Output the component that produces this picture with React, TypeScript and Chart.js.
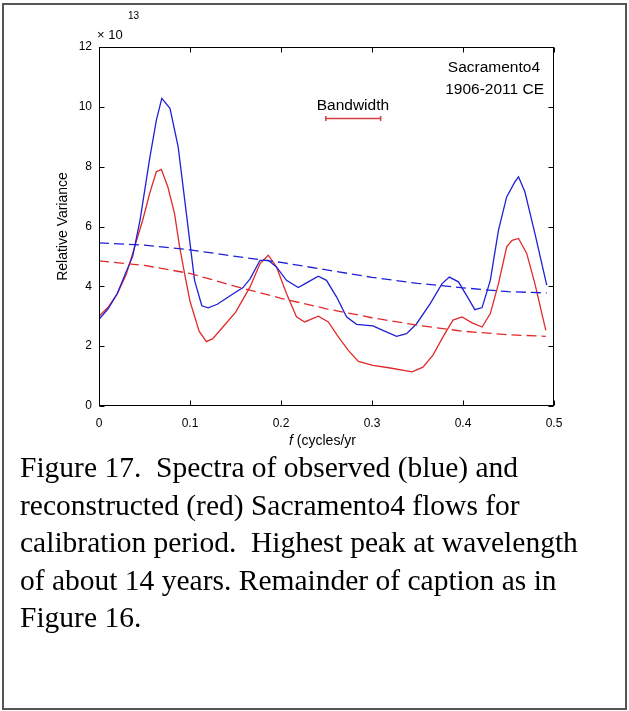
import React, { useEffect, useRef } from "react";
import { Chart, registerables } from "chart.js";

Chart.register(...registerables);

// ---- data (relative variance, units of 1e13) ----
const obsFreq = [0, 0.01, 0.02, 0.03, 0.037, 0.045, 0.056, 0.063, 0.069, 0.078, 0.087, 0.096, 0.105, 0.113, 0.12, 0.13, 0.14, 0.15, 0.158, 0.166, 0.177, 0.186, 0.195, 0.206, 0.219, 0.23, 0.241, 0.25, 0.261, 0.272, 0.283, 0.301, 0.312, 0.327, 0.338, 0.349, 0.364, 0.377, 0.385, 0.395, 0.406, 0.413, 0.421, 0.43, 0.439, 0.448, 0.457, 0.461, 0.468, 0.479, 0.492];
const obsVals = [2.9, 3.25, 3.75, 4.5, 5.0, 6.2, 8.33, 9.55, 10.28, 9.95, 8.66, 6.44, 4.2, 3.35, 3.28, 3.4, 3.6, 3.8, 3.95, 4.25, 4.87, 4.87, 4.65, 4.2, 3.96, 4.15, 4.34, 4.2, 3.65, 2.98, 2.73, 2.68, 2.53, 2.33, 2.42, 2.75, 3.42, 4.09, 4.31, 4.15, 3.59, 3.22, 3.29, 4.2, 5.88, 6.99, 7.49, 7.66, 7.16, 5.77, 4.04];

const recFreq = [0, 0.01, 0.02, 0.03, 0.037, 0.048, 0.0556, 0.063, 0.0685, 0.0757, 0.083, 0.0886, 0.094, 0.1, 0.11, 0.118, 0.125, 0.135, 0.15, 0.166, 0.177, 0.186, 0.195, 0.206, 0.217, 0.226, 0.241, 0.252, 0.263, 0.274, 0.285, 0.301, 0.32, 0.344, 0.356, 0.367, 0.378, 0.389, 0.399, 0.41, 0.421, 0.43, 0.439, 0.448, 0.454, 0.461, 0.47, 0.479, 0.491];
const recVals = [3.0, 3.3, 3.75, 4.4, 5.1, 6.21, 7.1, 7.83, 7.91, 7.32, 6.43, 5.32, 4.43, 3.5, 2.5, 2.15, 2.25, 2.6, 3.13, 3.98, 4.76, 5.04, 4.65, 3.76, 2.98, 2.81, 3.0, 2.81, 2.31, 1.86, 1.49, 1.36, 1.27, 1.14, 1.3, 1.7, 2.31, 2.87, 2.98, 2.78, 2.64, 3.09, 4.09, 5.32, 5.54, 5.6, 5.1, 4.09, 2.53];

const obsNullFreq = [0, 0.05, 0.1, 0.15, 0.2, 0.25, 0.3, 0.35, 0.4, 0.45, 0.492];
const obsNullVals = [5.45, 5.38, 5.22, 5.0, 4.8, 4.55, 4.3, 4.1, 3.95, 3.82, 3.78];

const recNullFreq = [0, 0.05, 0.1, 0.15, 0.2, 0.25, 0.3, 0.35, 0.4, 0.45, 0.491];
const recNullVals = [4.85, 4.7, 4.43, 4.0, 3.6, 3.25, 2.95, 2.7, 2.5, 2.38, 2.33];

const bandFreq = [0.2493, 0.3095];
const bandVals = [9.61, 9.61];
const bandLabelPos = { x: 0.279, y: 10.05 };

const xTicks = [0, 0.1, 0.2, 0.3, 0.4, 0.5];
const yTicks = [0, 2, 4, 6, 8, 10, 12];

const captionLines = [
  "Figure 17.  Spectra of observed (blue) and",
  "reconstructed (red) Sacramento4 flows for",
  "calibration period.  Highest peak at wavelength",
  "of about 14 years. Remainder of caption as in",
  "Figure 16.",
];

const BLUE = "#2020d8";
const RED = "#e02a2a";
const SANS = '"Liberation Sans", Arial, sans-serif';

const pts = (xs: number[], ys: number[]) => xs.map((x, i) => ({ x, y: ys[i] }));

const overlay = {
  id: "overlay",
  afterDraw(chart: any) {
    const { ctx, chartArea: a, scales } = chart;
    const x = scales.x;
    const y = scales.y;
    ctx.save();
    ctx.strokeStyle = "#000";
    ctx.lineWidth = 1;
    const L = Math.round(a.left) + 0.5;
    const R = Math.round(a.right) - 0.5;
    const T = Math.round(a.top) + 0.5;
    const B = Math.round(a.bottom) - 0.5;
    ctx.strokeRect(L, T, R - L, B - T);
    const tl = 5;
    ctx.beginPath();
    xTicks.forEach((v) => {
      const px = Math.round(x.getPixelForValue(v)) + 0.5;
      ctx.moveTo(px, B);
      ctx.lineTo(px, B - tl);
      ctx.moveTo(px, T);
      ctx.lineTo(px, T + tl);
    });
    yTicks.forEach((v) => {
      const py = Math.round(y.getPixelForValue(v)) + 0.5;
      ctx.moveTo(L, py);
      ctx.lineTo(L + tl, py);
      ctx.moveTo(R, py);
      ctx.lineTo(R - tl, py);
    });
    ctx.stroke();

    ctx.fillStyle = "#000";
    // exponent label
    ctx.textBaseline = "middle";
    ctx.textAlign = "left";
    ctx.font = `13px ${SANS}`;
    ctx.fillText("\u00d7 10", a.left - 2, a.top - 12);
    ctx.font = `10px ${SANS}`;
    ctx.fillText("13", a.left + 29, a.top - 31);

    // y title
    ctx.save();
    ctx.translate(a.left - 36, (a.top + a.bottom) / 2);
    ctx.rotate(-Math.PI / 2);
    ctx.textAlign = "center";
    ctx.font = `14px ${SANS}`;
    ctx.fillText("Relative Variance", 0, 0);
    ctx.restore();

    // x title
    ctx.font = `italic 14px ${SANS}`;
    const wf = ctx.measureText("f").width;
    ctx.font = `14px ${SANS}`;
    const wr = ctx.measureText(" (cycles/yr").width;
    const cx = (a.left + a.right) / 2 - 4;
    const sx = cx - (wf + wr) / 2;
    const ty = a.bottom + 35;
    ctx.textAlign = "left";
    ctx.font = `italic 14px ${SANS}`;
    ctx.fillText("f", sx, ty);
    ctx.font = `14px ${SANS}`;
    ctx.fillText(" (cycles/yr", sx + wf, ty);

    // site label
    ctx.textAlign = "right";
    ctx.font = `15.5px ${SANS}`;
    ctx.fillText("Sacramento4", a.right - 14, a.top + 21);
    ctx.fillText("1906-2011 CE", a.right - 10, a.top + 43);

    // bandwidth label
    ctx.textAlign = "center";
    ctx.fillText("Bandwidth", x.getPixelForValue(bandLabelPos.x), y.getPixelForValue(bandLabelPos.y));
    ctx.restore();
  },
};

export default function App() {
  const ref = useRef<HTMLCanvasElement | null>(null);
  useEffect(() => {
    if (!ref.current) return;
    const chart = new Chart(ref.current, {
      type: "line",
      data: {
        datasets: [
          { data: pts(obsNullFreq, obsNullVals), borderColor: BLUE, borderWidth: 1.3, borderDash: [10, 5], pointRadius: 0 },
          { data: pts(recNullFreq, recNullVals), borderColor: RED, borderWidth: 1.3, borderDash: [10, 5], pointRadius: 0 },
          { data: pts(obsFreq, obsVals), borderColor: BLUE, borderWidth: 1.3, pointRadius: 0 },
          { data: pts(recFreq, recVals), borderColor: RED, borderWidth: 1.3, pointRadius: 0 },
          {
            data: pts(bandFreq, bandVals),
            borderColor: "#d04040",
            borderWidth: 1.5,
            pointStyle: "line",
            rotation: 90,
            pointRadius: 2.5,
            pointBorderColor: "#d04040",
            pointBorderWidth: 1.5,
          },
        ],
      },
      options: {
        animation: false,
        responsive: false,
        events: [],
        layout: { padding: { left: 0, top: 47, right: 75, bottom: 24 } },
        plugins: { legend: { display: false }, tooltip: { enabled: false } },
        elements: { line: { tension: 0 } },
        scales: {
          x: {
            type: "linear",
            min: 0,
            max: 0.5,
            afterFit: (s: any) => { s.height = 30; },
            grid: { display: false, drawTicks: false },
            border: { display: false },
            ticks: { stepSize: 0.1, padding: 10, color: "#000", font: { family: SANS, size: 12 } },
          },
          y: {
            type: "linear",
            min: 0,
            max: 12,
            afterFit: (s: any) => { s.width = 99; },
            grid: { display: false, drawTicks: false },
            border: { display: false },
            ticks: { stepSize: 2, padding: 7, color: "#000", font: { family: SANS, size: 12 } },
          },
        },
      },
      plugins: [overlay],
    } as any);
    return () => chart.destroy();
  }, []);

  return (
    <div style={{ position: "absolute", left: 0, top: 0, width: 629, height: 711, background: "#fff" }}>
      <div
        style={{
          position: "absolute",
          left: 2,
          top: 3,
          width: 625,
          height: 707,
          border: "2px solid #555",
          boxSizing: "border-box",
        }}
      />
      <canvas ref={ref} width={629} height={460} style={{ position: "absolute", left: 0, top: 0, width: 629, height: 460 }} />
      <div
        style={{
          position: "absolute",
          left: 20,
          top: 449,
          fontFamily: '"Liberation Serif", "Times New Roman", serif',
          fontSize: 29.5,
          lineHeight: "37.5px",
          whiteSpace: "pre",
          color: "#000",
        }}
      >
        {captionLines.join("\n")}
      </div>
    </div>
  );
}
